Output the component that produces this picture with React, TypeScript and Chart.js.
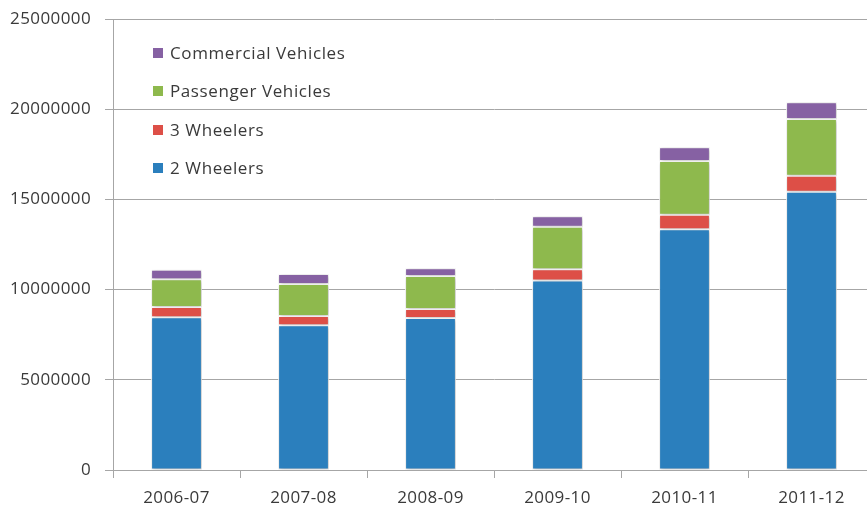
import React, { useEffect, useRef } from "react";
import { Chart, registerables } from "chart.js";

Chart.register(...registerables);

const categories = ["2006-07", "2007-08", "2008-09", "2009-10", "2010-11", "2011-12"];
const twoWheelers = [8470000, 8030000, 8420000, 10510000, 13350000, 15430000];
const threeWheelers = [560000, 500000, 500000, 620000, 800000, 880000];
const passengerVehicles = [1550000, 1780000, 1840000, 2360000, 2980000, 3150000];
const commercialVehicles = [520000, 550000, 420000, 570000, 760000, 930000];
const yTicks = [0, 5000000, 10000000, 15000000, 20000000, 25000000];

const FONT = "'Open Sans', 'DejaVu Sans', sans-serif";
const TEXT = "#3a3a3a";

const spacingPlugin = {
  id: "letterSpacing",
  beforeDraw(chart: any) {
    (chart.ctx as any).letterSpacing = "0.4px";
  },
};

const legendPlugin = {
  id: "insideLegend",
  afterDraw(chart: any) {
    const ctx = chart.ctx;
    const ds = chart.data.datasets.slice().reverse();
    const rowY = [53, 91, 130, 168];
    ctx.save();
    (ctx as any).letterSpacing = "0.6px";
    ctx.font = `17px ${FONT}`;
    ctx.textBaseline = "middle";
    ctx.textAlign = "left";
    ds.forEach((d: any, i: number) => {
      const y = rowY[i];
      ctx.fillStyle = d.backgroundColor;
      ctx.fillRect(153, y - 5, 10, 10);
      ctx.fillStyle = TEXT;
      ctx.fillText(d.label, 170, y + 1);
    });
    ctx.restore();
  },
};

const shadowPlugin = {
  id: "barShadow",
  beforeDatasetsDraw(chart: any) {
    const ctx = chart.ctx;
    ctx.save();
    ctx.shadowColor = "rgba(0,0,0,0.28)";
    ctx.shadowBlur = 4;
    ctx.shadowOffsetX = 1;
    ctx.shadowOffsetY = 1;
  },
  afterDatasetsDraw(chart: any) {
    chart.ctx.restore();
  },
};

export default function App() {
  const ref = useRef<HTMLCanvasElement | null>(null);

  useEffect(() => {
    if (!ref.current) return;
    const mk = (label: string, data: number[], color: string) => ({
      label,
      data,
      backgroundColor: color,
      borderColor: "#ffffff",
      borderWidth: 1,
      borderSkipped: false,
      categoryPercentage: 1,
      barPercentage: 0.4,
    });
    const chart = new Chart(ref.current, {
      type: "bar",
      data: {
        labels: categories,
        datasets: [
          mk("2 Wheelers", twoWheelers, "#2B7FBD"),
          mk("3 Wheelers", threeWheelers, "#DD4F47"),
          mk("Passenger Vehicles", passengerVehicles, "#8EB94D"),
          mk("Commercial Vehicles", commercialVehicles, "#8661A3"),
        ],
      },
      options: {
        animation: false,
        responsive: false,
        maintainAspectRatio: false,
        devicePixelRatio: 1,
        layout: { padding: { top: 19, left: 0, right: 0, bottom: 0 } },
        plugins: {
          legend: { display: false },
          tooltip: { enabled: false },
        },
        scales: {
          x: {
            stacked: true,
            grid: {
              display: true,
              drawOnChartArea: false,
              drawTicks: true,
              tickLength: 8,
              color: "#a6a6a6",
              lineWidth: 1,
            },
            border: { display: true, color: "#a6a6a6", width: 1 },
            ticks: {
              color: TEXT,
              font: { family: FONT, size: 17 },
              padding: 10,
              maxRotation: 0,
            },
            afterFit(scale: any) {
              scale.height = 38;
              scale.paddingLeft = 0;
              scale.paddingRight = 0;
            },
          },
          y: {
            stacked: true,
            min: 0,
            max: 25000000,
            afterBuildTicks(scale: any) {
              scale.ticks = yTicks.map((v) => ({ value: v }));
            },
            grid: {
              color: "#a6a6a6",
              lineWidth: 1,
              drawTicks: true,
              tickLength: 8,
            },
            border: { display: true, color: "#a6a6a6", width: 1 },
            ticks: {
              color: TEXT,
              font: { family: FONT, size: 17 },
              padding: 14,
              callback: (v: any) => String(v),
            },
            afterFit(scale: any) {
              scale.width = 113;
              scale.paddingTop = 0;
              scale.paddingBottom = 0;
            },
          },
        },
      },
      plugins: [spacingPlugin, shadowPlugin, legendPlugin],
    });
    return () => chart.destroy();
  }, []);

  return (
    <div style={{ position: "fixed", left: 0, top: 0, width: 867, height: 508, overflow: "hidden", background: "#fff" }}>
      <canvas ref={ref} width={875} height={508} style={{ display: "block", width: 875, height: 508 }} />
    </div>
  );
}
